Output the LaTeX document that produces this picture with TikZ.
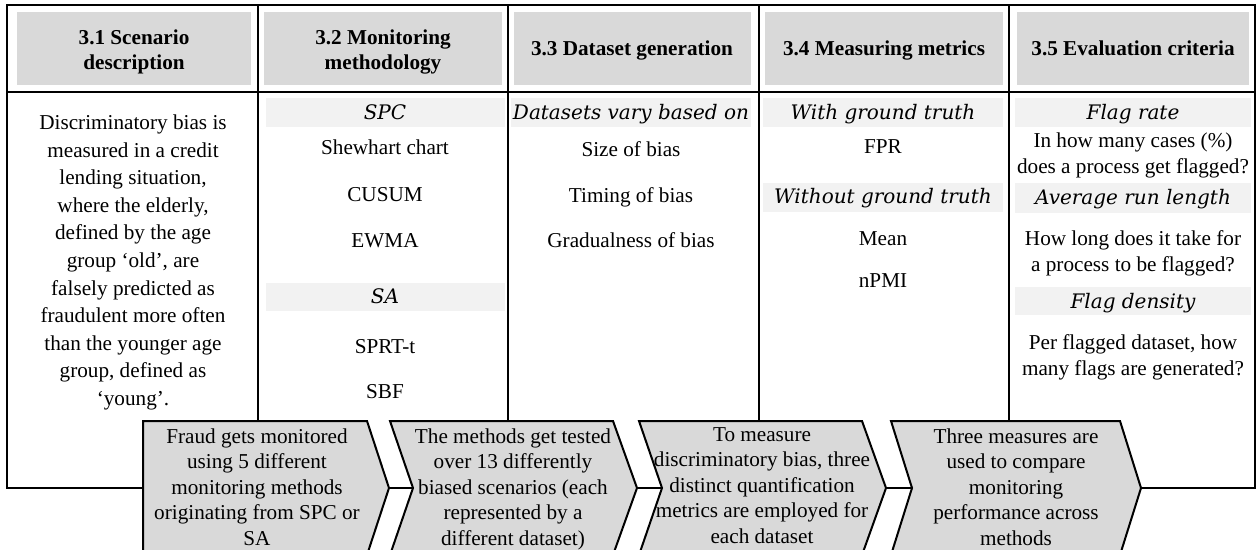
\documentclass[tikz,border=0pt]{standalone}
\usepackage{fontspec}
\setmainfont{Liberation Serif}
\newfontfamily\subit{DejaVu Serif}
\definecolor{hdr}{HTML}{D9D9D9}
\definecolor{bandc}{HTML}{F2F2F2}
\definecolor{chev}{HTML}{D9D9D9}
\begin{document}
\begin{tikzpicture}[x=0.5pt,y=-0.5pt,
  para/.style={anchor=north, inner sep=0pt, align=center, font=\fontsize{10.6}{#1}\selectfont},
  item/.style={anchor=base, inner sep=0pt, font=\fontsize{10.6}{13}\selectfont},
  sub/.style={anchor=base, inner sep=0pt, font=\subit\itshape\fontsize{10}{12}\selectfont},
  hd/.style={anchor=north, inner sep=0pt, align=center, font=\bfseries\fontsize{10.6}{12.5}\selectfont},
  hdone/.style={anchor=base, inner sep=0pt, font=\bfseries\fontsize{10.6}{12.5}\selectfont},
  hbox/.style={fill=hdr},
  bandbox/.style={fill=bandc},
  grid/.style={line width=1.4pt},
  chevron/.style={fill=chev, draw=black, line width=1pt, line join=miter}]
\useasboundingbox (0,0) rectangle (1256,550);
\clip (0,0) rectangle (1256,550);
\fill[white] (0,0) rectangle (1256,550);
% header boxes
\fill[hbox] (17,12) rectangle (251,85);
\fill[hbox] (264,12) rectangle (502,85);
\fill[hbox] (514,12) rectangle (751,85);
\fill[hbox] (765,12) rectangle (1003,85);
\fill[hbox] (1017,12) rectangle (1249,85);
% sub bands
\fill[bandbox] (266,98) rectangle (505,127);
\fill[bandbox] (266,283) rectangle (505,311);
\fill[bandbox] (511,98) rectangle (751,127);
\fill[bandbox] (763,98) rectangle (1003,127);
\fill[bandbox] (763,183) rectangle (1003,212);
\fill[bandbox] (1015,98) rectangle (1251,127);
\fill[bandbox] (1015,183) rectangle (1251,213);
\fill[bandbox] (1015,287) rectangle (1251,315);
% table grid
\draw[grid] (7,5) rectangle (1255,488);
\draw[grid] (7,92) -- (1255,92);
\foreach \xx in {258,508,759,1009} \draw[grid] (\xx,5) -- (\xx,488);
% chevrons
\draw[chevron] (143,421) -- (367,421) -- (389,488) -- (367,555) -- (143,555) -- cycle;
\draw[chevron] (390,421) -- (613,421) -- (637,488) -- (613,555) -- (390,555) -- (413,488) -- cycle;
\draw[chevron] (639,421) -- (862,421) -- (886,488) -- (862,555) -- (639,555) -- (662,488) -- cycle;
\draw[chevron] (891,421) -- (1120,421) -- (1141,488) -- (1120,555) -- (891,555) -- (912,488) -- cycle;
% headers
\node[hd] (h1) at (134,26.5) {\strut 3.1 Scenario\\description};
\node[hd] (h2) at (383,26.5) {\strut 3.2 Monitoring\\methodology};
\node[hdone] (h3) at (632,55.5) {3.3 Dataset generation};
\node[hdone] (h4) at (884,55.5) {3.4 Measuring metrics};
\node[hdone] (h5) at (1133,55.5) {3.5 Evaluation criteria};
% column 1
\node[para=13.8] (c1) at (133,109.7) {\strut Discriminatory bias is\\measured in a credit\\lending situation,\\where the elderly,\\defined by the age\\group ‘old’, are\\falsely predicted as\\fraudulent more often\\than the younger age\\group, defined as\\‘young’.};
% column 2
\node[sub] (spc) at (385,119.5) {SPC};
\node[item] (shew) at (385,155) {Shewhart chart};
\node[item] (cusum) at (385,202) {CUSUM};
\node[item] (ewma) at (385,248) {EWMA};
\node[sub] (sa) at (385,304) {SA};
\node[item] (sprt) at (385,353) {SPRT-t};
\node[item] (sbf) at (385,398) {SBF};
% column 3
\node[sub] (dvb) at (631,119.5) {Datasets vary based on};
\node[item] (size) at (631,157) {Size of bias};
\node[item] (timing) at (631,203) {Timing of bias};
\node[item] (grad) at (631,248) {Gradualness of bias};
% column 4
\node[sub] (wgt) at (883,119.5) {With ground truth};
\node[item] (fpr) at (883,154) {FPR};
\node[sub] (wogt) at (883,204) {Without ground truth};
\node[item] (mean) at (883,246) {Mean};
\node[item] (npmi) at (883,288) {nPMI};
% column 5
\node[sub] (fr) at (1133,119.5) {Flag rate};
\node[para=13] (frt) at (1133,128.8) {\strut In how many cases (\%)\\does a process get flagged?};
\node[sub] (arl) at (1133,204.5) {Average run length};
\node[para=13] (arlt) at (1133,226.8) {\strut How long does it take for\\a process to be flagged?};
\node[sub] (fd) at (1133,308) {Flag density};
\node[para=13] (fdt) at (1133,330.8) {\strut Per flagged dataset, how\\many flags are generated?};
% chevron texts
\node[para=12.75] (k1) at (257,425.2) {\strut Fraud gets monitored\\using 5 different\\monitoring methods\\originating from SPC or\\SA};
\node[para=12.75] (k2) at (513,425.2) {\strut The methods get tested\\over 13 differently\\biased scenarios (each\\represented by a\\different dataset)};
\node[para=12.75] (k3) at (762,423.2) {\strut To measure\\discriminatory bias, three\\distinct quantification\\metrics are employed for\\each dataset};
\node[para=12.75] (k4) at (1016,425.2) {\strut Three measures are\\used to compare\\monitoring\\performance across\\methods};
\end{tikzpicture}
\end{document}
